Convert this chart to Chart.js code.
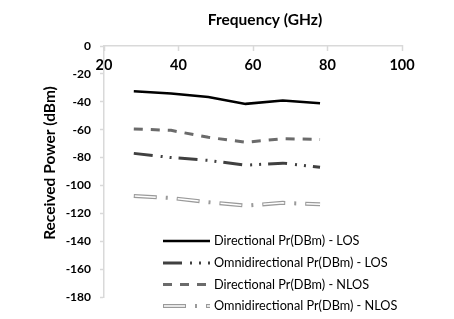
<!DOCTYPE html>
<html>
<head>
<meta charset="utf-8">
<script src="https://cdn.jsdelivr.net/npm/chart.js@4"></script>
<style>
  body { margin: 0; background: #fff; }
  #wrap { width: 454px; height: 319px; position: relative; }
</style>
</head>
<body>
<div id="wrap"><canvas id="myChart"></canvas></div>
<script>
var freqs = [28, 38, 48, 58, 68, 78];
var dirLos = [-32.5, -34, -36.5, -41.5, -39, -41];
var omniLos = [-77, -80, -82, -85.5, -84, -87];
var dirNlos = [-59.5, -60.5, -65.5, -69, -66.5, -67];
var omniNlos = [-107.5, -109, -112, -114.5, -112.5, -113.5];
var seriesNames = ['Directional Pr(DBm) - LOS', 'Omnidirectional Pr(DBm) - LOS',
                   'Directional Pr(DBm) - NLOS', 'Omnidirectional Pr(DBm) - NLOS'];
var xTitle = 'Frequency (GHz)';
var yTitle = 'Received Power (dBm)';

function pts(ys) {
  return freqs.map(function (f, i) { return { x: f, y: ys[i] }; });
}

var axisGray = '#d9d9d9';
var font = "Lato, 'DejaVu Sans', sans-serif";

// axis titles and legend drawn at fixed spots, like the Excel original
var overlay = {
  id: 'overlay',
  afterDraw: function (chart) {
    var c = chart.ctx;
    c.save();
    c.fillStyle = '#000';
    c.font = 'bold 15.5px ' + font;
    c.textAlign = 'center';
    c.textBaseline = 'middle';
    c.fillText(xTitle, 265, 20);
    c.translate(50, 163);
    c.rotate(-Math.PI / 2);
    c.fillText(yTitle, 0, 0);
    c.restore();

    // legend
    var rows = [241, 263, 284.5, 306];
    var sets = chart.data.datasets;
    var rowIdx = 0;
    c.save();
    for (var i = 0; i < sets.length; i++) {
      var ds = sets[i];
      if (ds.legendSkip) continue;
      var y = rows[rowIdx];
      var group = [ds];
      if (ds.inner !== undefined) group.push(sets[ds.inner]);
      group.forEach(function (d) {
        c.beginPath();
        c.strokeStyle = d.borderColor;
        c.lineWidth = d.borderWidth;
        c.setLineDash(d.borderDash || []);
        c.lineDashOffset = d.borderDashOffset || 0;
        c.moveTo(163, y);
        c.lineTo(210, y);
        c.stroke();
      });
      c.setLineDash([]);
      c.fillStyle = '#000';
      c.font = '12.7px ' + font;
      c.textAlign = 'left';
      c.textBaseline = 'middle';
      c.fillText(seriesNames[rowIdx], 214, y);
      rowIdx++;
    }
    c.restore();
  }
};

var ctx = document.getElementById('myChart').getContext('2d');
var myChart = new Chart(ctx, {
  type: 'line',
  data: {
    datasets: [{
      label: seriesNames[0],
      data: pts(dirLos),
      borderColor: '#000000',
      borderWidth: 2.5
    }, {
      label: seriesNames[1],
      data: pts(omniLos),
      borderColor: '#404040',
      borderWidth: 3,
      borderDash: [19, 8, 2, 7, 2, 7]
    }, {
      label: seriesNames[2],
      data: pts(dirNlos),
      borderColor: '#6b6b6b',
      borderWidth: 3,
      borderDash: [9, 8]
    }, {
      label: seriesNames[3],
      data: pts(omniNlos),
      borderColor: '#9a9a9a',
      borderWidth: 4,
      borderDash: [23, 9, 2, 9],
      inner: 4
    }, {
      label: seriesNames[3] + ' inner',
      data: pts(omniNlos),
      borderColor: '#ffffff',
      borderWidth: 1.5,
      borderDash: [21, 22],
      borderDashOffset: -1,
      order: -1,
      legendSkip: true
    }]
  },
  options: {
    responsive: true,
    maintainAspectRatio: false,
    animation: false,
    elements: {
      line: { tension: 0, fill: false },
      point: { radius: 0, hoverRadius: 0 }
    },
    layout: { padding: { left: 0, right: 52, top: 0, bottom: 22 } },
    plugins: {
      legend: { display: false },
      tooltip: { enabled: false }
    },
    scales: {
      x: {
        type: 'linear',
        position: 'top',
        min: 20,
        max: 100,
        afterFit: function (s) { s.height = 46; },
        ticks: {
          stepSize: 20,
          mirror: true,
          padding: 11,
          color: '#000',
          font: { family: font, size: 14.5, weight: 'bold' }
        },
        grid: {
          drawOnChartArea: false,
          tickLength: -5,
          color: axisGray,
          tickColor: axisGray,
          tickWidth: 1.5
        },
        border: { color: axisGray, width: 1.5 }
      },
      y: {
        min: -180,
        max: 0,
        afterFit: function (s) { s.width = 104; },
        ticks: {
          stepSize: 20,
          padding: 9,
          color: '#000',
          font: { family: font, size: 12, weight: 'bold' }
        },
        grid: {
          drawOnChartArea: false,
          tickLength: 4,
          color: axisGray,
          tickColor: axisGray,
          tickWidth: 1.5
        },
        border: { color: axisGray, width: 1.5 }
      }
    }
  },
  plugins: [overlay]
});
</script>
</body>
</html>
